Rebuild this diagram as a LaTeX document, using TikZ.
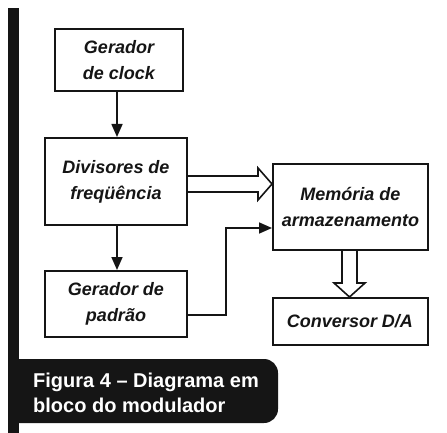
\documentclass[tikz,border=0pt]{standalone}
\usepackage{fontspec}
\setmainfont{Liberation Sans}
\usetikzlibrary{arrows.meta}
\definecolor{ink}{HTML}{151515}
\tikzset{
  blk/.style={draw=ink, line width=2pt, fill=white, align=center,
    font=\fontsize{18}{26}\selectfont\bfseries\itshape, inner sep=0pt, text=ink},
  arr/.style={draw=ink, line width=1.6pt, -{Triangle[length=13pt,width=11pt]}},
  hollow/.style={draw=ink, line width=1.6pt, fill=white, line join=miter},
  captxt/.style={text=white, font=\fontsize{20}{25}\selectfont\bfseries, inner sep=0pt, anchor=base west}
}
\begin{document}
\begin{tikzpicture}[x=1pt,y=-1pt]
\useasboundingbox (0,0) rectangle (447,433);
\fill[white] (0,0) rectangle (447,433);
% left bar and caption
\fill[ink] (8,8) rectangle (19,433);
\fill[ink] (8,359) -- (264,359) arc[start angle=-90, end angle=0, radius=14] -- (278,409)
   arc[start angle=0, end angle=90, radius=14] -- (8,423) -- cycle;
\node[captxt] (capA) at (33,387) {Figura 4 – Diagrama em};
\node[captxt] (capB) at (33,412) {bloco do modulador};
% blocks
\node[blk, minimum width=128pt, minimum height=62pt] (clk) at (119,60) {Gerador\\de clock};
\node[blk, minimum width=142pt, minimum height=87pt] (div) at (116,181.5) {Divisores de\\freqüência};
\node[blk, minimum width=142pt, minimum height=66pt] (pad) at (116,304) {Gerador de\\padrão};
\node[blk, minimum width=155pt, minimum height=86pt] (mem) at (350.5,207) {Memória de\\armazenamento};
\node[blk, minimum width=155pt, minimum height=47pt] (dac) at (350,321.5) {Conversor D/A};
% helper coordinates
\coordinate (xa) at (117,0);
\coordinate (p1) at (226,315);
\coordinate (p2) at (226,228);
\coordinate (h1) at (0,176);
\coordinate (h2) at (0,192);
\coordinate (ht) at (0,184);
\coordinate (v1) at (342,0);
\coordinate (v2) at (357,0);
\coordinate (vt) at (349.5,0);
% simple arrows
\draw[arr] (clk.south -| xa) -- (div.north -| xa);
\draw[arr] (div.south -| xa) -- (pad.north -| xa);
\draw[arr] (pad.east |- p1) -- (p1) -- (p2) -- (mem.west |- p2);
% hollow arrow div -> mem
\draw[hollow] (div.east |- h1) -- (258,176) -- (258,168) -- (mem.west |- ht)
   -- (258,200) -- (258,192) -- (div.east |- h2);
% hollow arrow mem -> dac
\draw[hollow] (mem.south -| v1) -- (342,283) -- (334,283) -- (dac.north -| vt)
   -- (365,283) -- (357,283) -- (mem.south -| v2);
\end{tikzpicture}
\end{document}
